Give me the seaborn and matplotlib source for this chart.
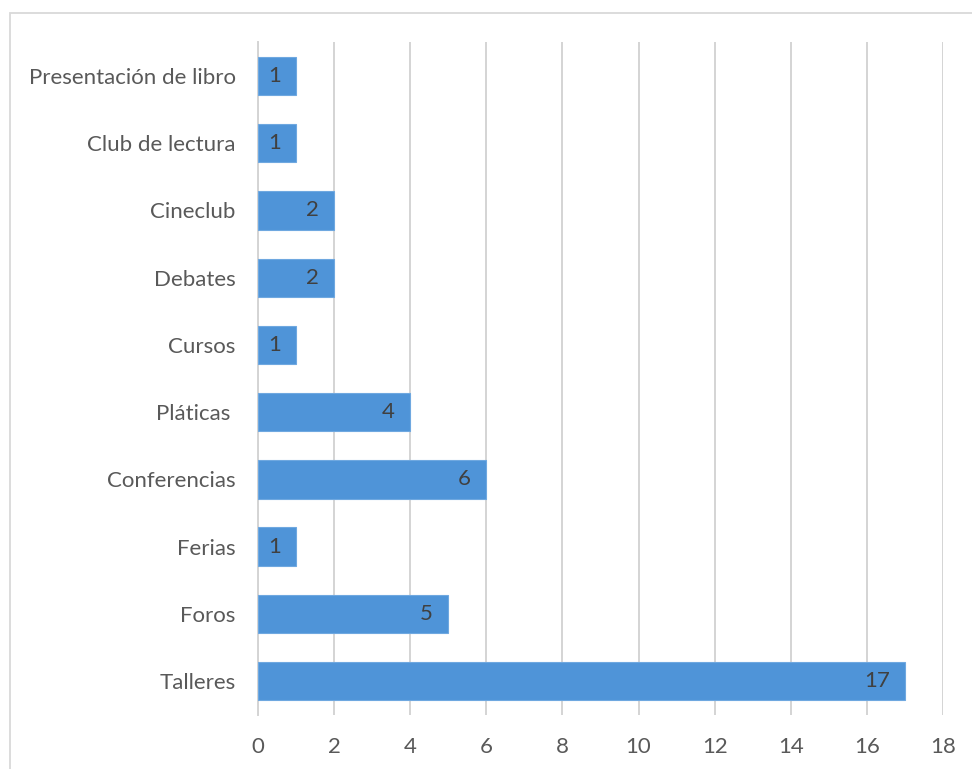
import matplotlib
matplotlib.use("Agg")
import matplotlib.pyplot as plt
import seaborn as sns
import pandas as pd
from matplotlib.patches import Rectangle

categorias = ["Presentación de libro", "Club de lectura", "Cineclub", "Debates", "Cursos",
              "Pláticas ", "Conferencias", "Ferias", "Foros", "Talleres"]
valores = [1, 1, 2, 2, 1, 4, 6, 1, 5, 17]
ticks_x = [0, 2, 4, 6, 8, 10, 12, 14, 16, 18]

df = pd.DataFrame({"categoria": categorias, "valor": valores})

sns.set_theme(style="white")
plt.rcParams["font.family"] = ["Lato", "DejaVu Sans"]

texto = "#595959"
fig = plt.figure(figsize=(9.72, 7.69), dpi=100)
ax = fig.add_axes([0.2654, 0.0707, 0.7048, 0.8742])

sns.barplot(data=df, y="categoria", x="valor", orient="h", color="#4F94D8",
            saturation=1, width=0.57, ax=ax, zorder=3, edgecolor="#6FA8E0",
            linewidth=0.8)

ax.set_xlim(0, 18)
ax.set_xticks(ticks_x)
ax.set_xticklabels([str(t) for t in ticks_x])
ax.grid(axis="x", color="#D4D4D4", linewidth=1.4, zorder=0)
ax.grid(axis="y", visible=False)
for s in ["top", "right", "bottom"]:
    ax.spines[s].set_visible(False)
ax.spines["left"].set_color("#D4D4D4")
ax.spines["left"].set_linewidth(1.4)
ax.set_xlabel("")
ax.set_ylabel("")
ax.tick_params(axis="both", length=0, labelsize=16, colors=texto)
ax.tick_params(axis="x", pad=16)
ax.tick_params(axis="y", pad=16)

for i, v in enumerate(valores):
    ax.annotate(str(v), xy=(v, i), xytext=(-11, 0), textcoords="offset points",
                ha="right", va="center", fontsize=16, color="#404040", zorder=4)

fig.patches.append(Rectangle((10 / 972, -0.05), 1.1, 1 - 13 / 769 + 0.05,
                             transform=fig.transFigure, fill=False,
                             edgecolor="#D9D9D9", linewidth=1.3))

fig.savefig("out.png", dpi=100, facecolor="white")
